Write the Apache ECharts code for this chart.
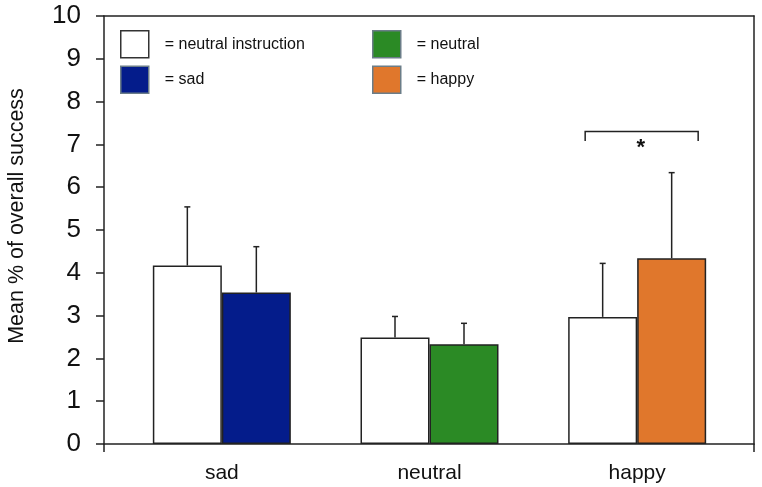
<!DOCTYPE html>
<html>
<head>
<meta charset="utf-8">
<script src="https://cdn.jsdelivr.net/npm/echarts@6/dist/echarts.min.js"></script>
<style>html,body{margin:0;padding:0;background:#fff}#c{width:762px;height:487px}</style>
</head>
<body>
<div id="c"></div>
<script>
// ---- data ----
var categories = ['sad', 'neutral', 'happy'];
var instructionMeans = [4.17, 2.49, 2.97];
var instructionErrTop = [5.54, 2.98, 4.22];
var moodMeans = [3.54, 2.33, 4.34];
var moodErrTop = [4.61, 2.82, 6.34];
var moodNames = ['sad', 'neutral', 'happy'];
var moodColors = ['#041c8b', '#2b8a25', '#e0772c'];
var yTicks = [0, 10, 1]; // min, max, interval
var sigBracket = [2, 7.3, 7.08]; // category index, top value, leg end value
var sigLabel = '*';

var FONT = "'Liberation Sans', Arial, sans-serif";
var chart = echarts.init(document.getElementById('c'), null, {renderer: 'canvas'});

var series = [];
series.push({
  name: 'neutral instruction', type: 'bar', xAxisIndex: 2, yAxisIndex: 2,
  barWidth: 69, barGap: '0%',
  itemStyle: {color: '#ffffff', borderColor: '#222', borderWidth: 1.5},
  data: instructionMeans
});
moodNames.forEach(function (m, i) {
  var d = categories.map(function (c, j) { return j === i ? moodMeans[j] : '-'; });
  series.push({
    name: m, type: 'bar', stack: 'mood', xAxisIndex: 2, yAxisIndex: 2,
    barWidth: 69, barGap: '0%',
    itemStyle: {color: moodColors[i], borderColor: '#222', borderWidth: 1.5},
    data: d
  });
});

function errSeries(means, tops, offset) {
  return {
    type: 'custom', xAxisIndex: 2, yAxisIndex: 2, silent: true, z: 1,
    data: categories.map(function (c, i) { return [i, means[i], tops[i]]; }),
    renderItem: function (params, api) {
      var p0 = api.coord([api.value(0), api.value(1)]);
      var p1 = api.coord([api.value(0), api.value(2)]);
      var x = p0[0] + offset;
      var st = {stroke: '#222', lineWidth: 1.5};
      return {type: 'group', children: [
        {type: 'line', shape: {x1: x, y1: p0[1], x2: x, y2: p1[1]}, style: st},
        {type: 'line', shape: {x1: x - 3, y1: p1[1], x2: x + 3, y2: p1[1]}, style: st}
      ]};
    }
  };
}
series.push(errSeries(instructionMeans, instructionErrTop, -34.5));
series.push(errSeries(moodMeans, moodErrTop, 34.5));

series.push({
  type: 'custom', xAxisIndex: 2, yAxisIndex: 2, silent: true,
  data: [sigBracket],
  renderItem: function (params, api) {
    var top = api.coord([api.value(0), api.value(1)]);
    var low = api.coord([api.value(0), api.value(2)]);
    var xl = top[0] - 52, xr = top[0] + 61;
    return {type: 'group', children: [
      {type: 'polyline', shape: {points: [[xl, low[1]], [xl, top[1]], [xr, top[1]], [xr, low[1]]]},
        style: {stroke: '#222', lineWidth: 1.5, fill: null}},
      {type: 'text', x: (xl + xr) / 2 - 1, y: top[1] + 5,
        style: {text: sigLabel, font: 'bold 22px ' + FONT, fill: '#111', textAlign: 'center', textVerticalAlign: 'top'}}
    ]};
  }
});

var legendText = {fontFamily: FONT, fontSize: 16, color: '#111', padding: [0, 0, 0, 11]};
var option = {
  animation: false,
  backgroundColor: '#fff',
  grid: [
    {left: 104, right: 8, top: 16, bottom: 43},
    {left: 118, right: 21, top: 16, bottom: 43}
  ],
  legend: [
    {left: 115, top: 25, orient: 'vertical', icon: 'rect', itemWidth: 28, itemHeight: 27, itemGap: 7,
      selectedMode: false, formatter: '= {name}', textStyle: legendText,
      data: [{name: 'neutral instruction', itemStyle: {borderColor: '#333', borderWidth: 1.5}},
             {name: 'sad', itemStyle: {borderColor: '#6b7d88', borderWidth: 1.5}}]},
    {left: 367, top: 25, orient: 'vertical', icon: 'rect', itemWidth: 28, itemHeight: 27, itemGap: 7,
      selectedMode: false, formatter: '= {name}', textStyle: legendText,
      data: [{name: 'neutral', itemStyle: {borderColor: '#6b7d88', borderWidth: 1.5}},
             {name: 'happy', itemStyle: {borderColor: '#6b7d88', borderWidth: 1.5}}]}
  ],
  xAxis: [
    {type: 'value', gridIndex: 0, min: 0, max: 1, interval: 1,
      axisLine: {show: true, onZero: false, lineStyle: {color: '#222', width: 1.5}},
      axisTick: {show: true, length: 8, lineStyle: {color: '#222', width: 1.5}},
      axisLabel: {show: false}, splitLine: {show: false}},
    {type: 'value', gridIndex: 0, position: 'top', min: 0, max: 1,
      axisLine: {show: true, onZero: false, lineStyle: {color: '#222', width: 1.5}},
      axisTick: {show: false}, axisLabel: {show: false}, splitLine: {show: false}},
    {type: 'category', gridIndex: 1, data: categories,
      axisLine: {show: false}, axisTick: {show: false},
      axisLabel: {fontFamily: FONT, fontSize: 21, color: '#111', margin: 19}}
  ],
  yAxis: [
    {type: 'value', gridIndex: 0, min: yTicks[0], max: yTicks[1], interval: yTicks[2],
      axisLine: {show: true, onZero: false, lineStyle: {color: '#222', width: 1.5}},
      axisTick: {show: true, length: 8, lineStyle: {color: '#222', width: 1.5}},
      axisLabel: {fontFamily: FONT, fontSize: 26, color: '#111', margin: 23},
      splitLine: {show: false}},
    {type: 'value', gridIndex: 0, position: 'right', min: yTicks[0], max: yTicks[1],
      axisLine: {show: true, onZero: false, lineStyle: {color: '#222', width: 1.5}},
      axisTick: {show: false}, axisLabel: {show: false}, splitLine: {show: false}},
    {type: 'value', gridIndex: 1, min: yTicks[0], max: yTicks[1], show: false}
  ],
  graphic: [
    {type: 'text', x: 17, y: 216, rotation: Math.PI / 2,
      style: {text: 'Mean % of overall success', font: '21.5px ' + FONT, fill: '#111',
        textAlign: 'center', textVerticalAlign: 'middle'}}
  ],
  series: series
};
chart.setOption(option);
</script>
</body>
</html>
